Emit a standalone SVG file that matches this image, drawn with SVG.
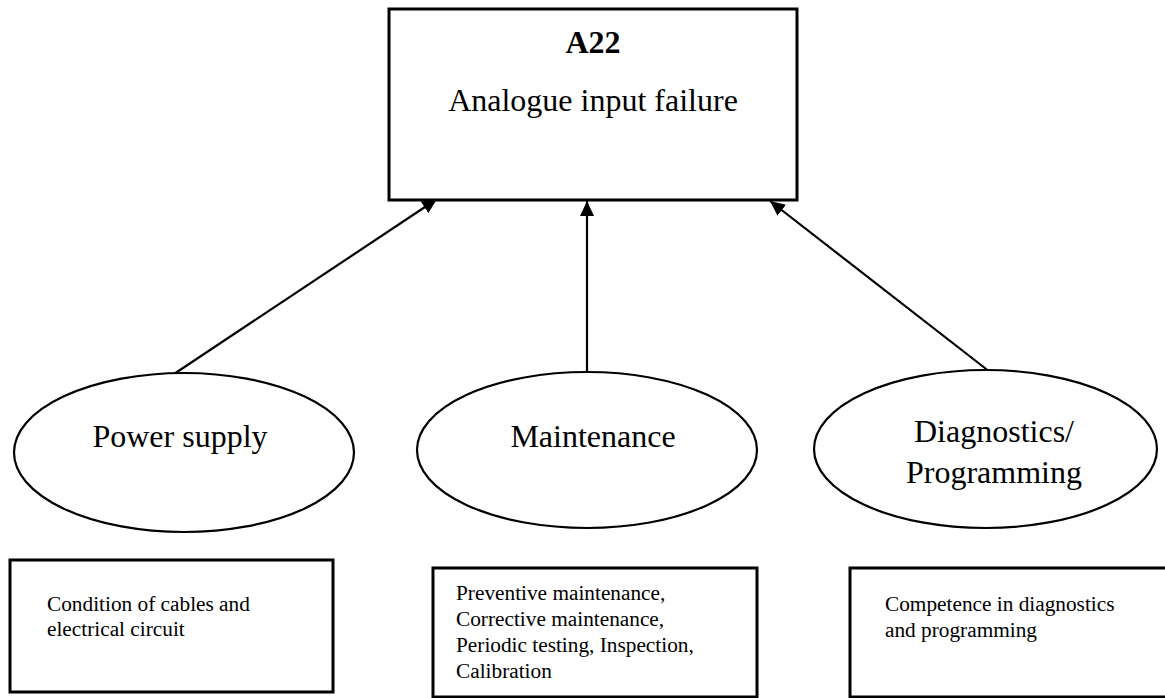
<svg xmlns="http://www.w3.org/2000/svg" width="1165" height="698" viewBox="0 0 1165 698">
<style>
  .box { fill: #fff; stroke: #000; stroke-width: 3; }
  .ell { fill: #fff; stroke: #000; stroke-width: 2.2; }
  .big { font-family: "Liberation Serif", "Times New Roman", serif; font-size: 32px; fill: #000; }
  .small { font-family: "Liberation Serif", "Times New Roman", serif; font-size: 21.3px; fill: #000; }
  .conn { stroke: #000; stroke-width: 2.2; fill: none; marker-end: url(#arrow); }
</style>
<defs>
  <marker id="arrow" markerUnits="userSpaceOnUse" markerWidth="16" markerHeight="14" refX="15" refY="7" orient="auto">
    <path d="M0,0 L15,7 L0,14 Z" fill="#000"/>
  </marker>
</defs>
<rect width="1165" height="698" fill="#fff"/>
<g id="connectors">
  <line class="conn" x1="174" y1="374" x2="437" y2="199"/>
  <line class="conn" x1="587" y1="372" x2="587" y2="201"/>
  <line class="conn" x1="990" y1="372" x2="770" y2="201"/>
</g>
<g id="a22">
  <rect class="box" x="389" y="9" width="408" height="191"/>
  <text class="big" x="593" y="53" text-anchor="middle" font-weight="bold">A22</text>
  <text class="big" x="593" y="111" text-anchor="middle">Analogue input failure</text>
</g>
<g id="power-supply">
  <ellipse class="ell" cx="184" cy="452.5" rx="170" ry="79.5"/>
  <text class="big" x="180" y="447" text-anchor="middle">Power supply</text>
</g>
<g id="maintenance">
  <ellipse class="ell" cx="587" cy="450" rx="170" ry="78"/>
  <text class="big" x="593" y="447" text-anchor="middle">Maintenance</text>
</g>
<g id="diagnostics">
  <ellipse class="ell" cx="985.5" cy="449" rx="171.5" ry="79"/>
  <text class="big" x="994" y="442" text-anchor="middle">Diagnostics/</text>
  <text class="big" x="994" y="483" text-anchor="middle">Programming</text>
</g>
<g id="power-detail">
  <rect class="box" x="10" y="560" width="323" height="132"/>
  <text class="small" x="47" y="611">Condition of cables and</text>
  <text class="small" x="47" y="636">electrical circuit</text>
</g>
<g id="maintenance-detail">
  <rect class="box" x="433" y="568" width="324" height="129"/>
  <text class="small" x="456" y="600">Preventive maintenance,</text>
  <text class="small" x="456" y="626">Corrective maintenance,</text>
  <text class="small" x="456" y="652">Periodic testing, Inspection,</text>
  <text class="small" x="456" y="678">Calibration</text>
</g>
<g id="diagnostics-detail">
  <rect class="box" x="850" y="568" width="330" height="129"/>
  <text class="small" x="885" y="611">Competence in diagnostics</text>
  <text class="small" x="885" y="637">and programming</text>
</g>
</svg>
